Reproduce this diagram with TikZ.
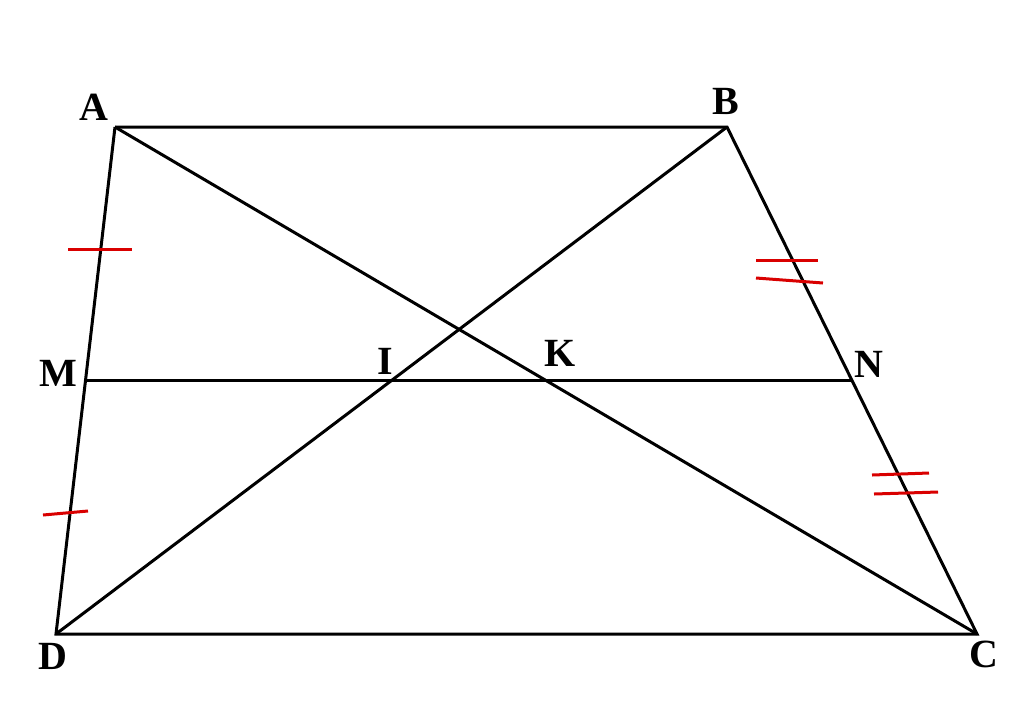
\documentclass[tikz,border=0pt]{standalone}
\usepackage{fontspec}
\setmainfont{Liberation Serif}
\usetikzlibrary{positioning}

\begin{document}
\begin{tikzpicture}[x=1pt, y=-1pt, line width=3pt,
  lbl/.style={font=\fontsize{40}{40}\selectfont\bfseries, inner sep=0pt},
  tick/.style={red!85!black, line width=3pt}]
           \useasboundingbox (0,0) rectangle (1024,716);
           \coordinate (A) at (115,127);
           \coordinate (B) at (727,127);
           \coordinate (C) at (977,634);
           \coordinate (D) at (56,634);
           \coordinate (M) at (86,380);
           \coordinate (N) at (852,380);
           \coordinate (I) at (395,380);
           \coordinate (K) at (540,380);
           \node [lbl] (lA) at (94,107) {A};
           \node [lbl] (lB) at (726,101) {B};
           \node [lbl] (lC) at (984,654) {C};
           \node [lbl] (lD) at (53,656) {D};
           \node [lbl] (lM) at (58,373) {M};
           \node [lbl] (lN) at (869,364) {N};
           \node [lbl] (lI) at (385,361) {I};
           \node [lbl] (lK) at (560,353) {K};
           \draw (A) -- (B) -- (C) -- (D) -- (A);
           \draw (A) -- (C);
           \draw (B) -- (D);
           \draw (M) -- (N);
           % equal marks
           \draw [tick] (68,249) -- (132,249);
           \draw [tick] (43,515) -- (88,511);
           \draw [tick] (756,260) -- (818,260);
           \draw [tick] (756,278) -- (823,283);
           \draw [tick] (872,475) -- (929,473);
           \draw [tick] (874,494) -- (938,492);
      \end{tikzpicture}
\end{document}
